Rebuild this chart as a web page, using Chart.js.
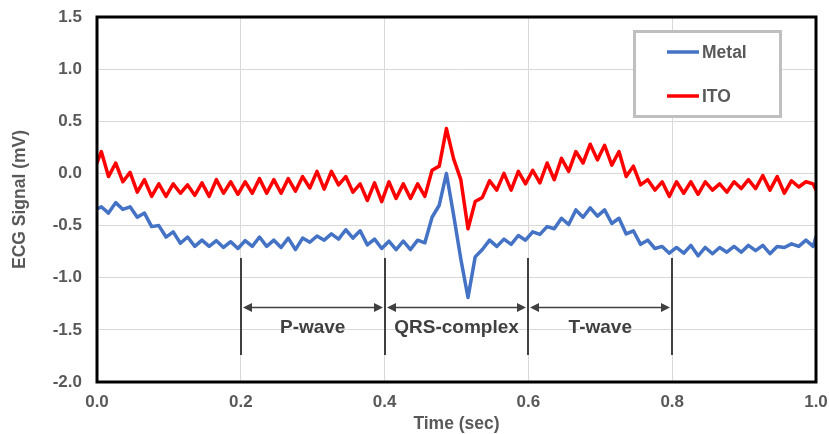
<!DOCTYPE html>
<html>
<head>
<meta charset="utf-8">
<script src="https://cdn.jsdelivr.net/npm/chart.js@4.4.0/dist/chart.umd.min.js"></script>
<style>
  html, body { margin: 0; padding: 0; background: #fff; }
  canvas { display: block; }
</style>
</head>
<body>
<canvas id="ecg_canvas" width="829" height="434"></canvas>
<script>
const seriesNames = ['Metal', 'ITO'];
const seriesColors = ['#4472C4', '#FF0000'];

// sample times in sec: start at 0, then every 10 ms, last one at 1.0
const times = [0];
for (let i = 0; i < 100; i++) times.push(+(0.006 + 0.01 * i).toFixed(3));
times.push(1.0);

const metal = [
  -0.34,
  -0.32, -0.38, -0.28, -0.345, -0.32, -0.42, -0.38, -0.51, -0.50, -0.61,
  -0.56, -0.67, -0.61, -0.70, -0.64, -0.70, -0.645, -0.71, -0.655, -0.72,
  -0.645, -0.70, -0.61, -0.70, -0.64, -0.71, -0.62, -0.73, -0.62, -0.66,
  -0.60, -0.64, -0.58, -0.63, -0.54, -0.62, -0.55, -0.685, -0.63, -0.72,
  -0.65, -0.73, -0.65, -0.73, -0.64, -0.665, -0.42, -0.305, 0.0, -0.40,
  -0.82, -1.19, -0.80, -0.73, -0.64, -0.70, -0.63, -0.68, -0.595, -0.64,
  -0.56, -0.585, -0.51, -0.53, -0.43, -0.49, -0.35, -0.42, -0.33, -0.41,
  -0.35, -0.48, -0.43, -0.58, -0.55, -0.68, -0.64, -0.72, -0.70, -0.765,
  -0.71, -0.765, -0.69, -0.79, -0.71, -0.77, -0.71, -0.755, -0.70, -0.755,
  -0.69, -0.74, -0.69, -0.77, -0.70, -0.71, -0.675, -0.70, -0.64, -0.70,
  -0.61
];

const ito = [
  0.10,
  0.21, -0.03, 0.10, -0.08, 0.01, -0.18, -0.06, -0.22, -0.10, -0.22,
  -0.10, -0.19, -0.11, -0.21, -0.09, -0.22, -0.06, -0.19, -0.08, -0.20,
  -0.08, -0.19, -0.05, -0.19, -0.06, -0.19, -0.05, -0.17, -0.03, -0.14,
  0.02, -0.15, 0.02, -0.11, -0.03, -0.18, -0.10, -0.26, -0.09, -0.27,
  -0.08, -0.24, -0.10, -0.24, -0.10, -0.22, 0.03, 0.07, 0.43, 0.14,
  -0.06, -0.53, -0.27, -0.23, -0.07, -0.16, 0.00, -0.16, 0.02, -0.10,
  0.03, -0.09, 0.10, -0.06, 0.145, 0.02, 0.21, 0.10, 0.28, 0.13,
  0.27, 0.08, 0.21, -0.03, 0.07, -0.11, -0.06, -0.16, -0.08, -0.22,
  -0.08, -0.19, -0.08, -0.20, -0.08, -0.16, -0.10, -0.18, -0.08, -0.145,
  -0.06, -0.145, -0.02, -0.16, -0.03, -0.19, -0.07, -0.13, -0.08, -0.10,
  -0.16
];

const xTicks = [0, 0.2, 0.4, 0.6, 0.8, 1.0];
const yTicks = [-2.0, -1.5, -1.0, -0.5, 0.0, 0.5, 1.0, 1.5];

// wave segments marked under the traces
const waveBounds = [0.2, 0.4, 0.6, 0.8];
const waveNames = ['P-wave', 'QRS-complex', 'T-wave'];

const FONT = '"Liberation Sans", Arial, sans-serif';
const GREY_TEXT = '#595959';
const MARK = '#404040';
// where the marks sit (mV)
const markTop = -0.81, markBottom = -1.74, arrowLevel = -1.28, labelLevel = -1.48;

Chart.defaults.font.family = FONT;

function toPoints(vals) {
  return vals.map((v, i) => ({ x: times[i], y: v }));
}

function arrowHead(ctx, px, py, dir) {
  ctx.beginPath();
  ctx.moveTo(px, py);
  ctx.lineTo(px + dir * 9, py - 4.5);
  ctx.lineTo(px + dir * 9, py + 4.5);
  ctx.closePath();
  ctx.fill();
}

const waveMarks = {
  id: 'waveMarks',
  afterDatasetsDraw(chart) {
    const { ctx, scales: { x, y } } = chart;
    ctx.save();
    ctx.strokeStyle = MARK;
    ctx.fillStyle = MARK;
    ctx.lineWidth = 2;
    waveBounds.forEach(b => {
      const px = Math.round(x.getPixelForValue(b));
      ctx.beginPath();
      ctx.moveTo(px, y.getPixelForValue(markTop));
      ctx.lineTo(px, y.getPixelForValue(markBottom));
      ctx.stroke();
    });
    const ay = Math.round(y.getPixelForValue(arrowLevel)) + 0.5;
    ctx.font = 'bold 19px ' + FONT;
    ctx.textAlign = 'center';
    ctx.textBaseline = 'middle';
    waveNames.forEach((name, i) => {
      const x0 = Math.round(x.getPixelForValue(waveBounds[i])) + 2;
      const x1 = Math.round(x.getPixelForValue(waveBounds[i + 1])) - 2;
      ctx.lineWidth = 1.5;
      ctx.beginPath();
      ctx.moveTo(x0 + 5, ay);
      ctx.lineTo(x1 - 5, ay);
      ctx.stroke();
      arrowHead(ctx, x0, ay, 1);
      arrowHead(ctx, x1, ay, -1);
      const mid = (waveBounds[i] + waveBounds[i + 1]) / 2;
      ctx.fillText(name, x.getPixelForValue(mid), y.getPixelForValue(labelLevel));
    });
    ctx.restore();
  }
};

const plotFrame = {
  id: 'plotFrame',
  afterDraw(chart) {
    const { ctx, chartArea: a } = chart;
    ctx.save();
    ctx.strokeStyle = '#000';
    ctx.lineWidth = 3;
    ctx.strokeRect(a.left, a.top, a.right - a.left, a.bottom - a.top);

    // legend box, top right inside the plot
    ctx.fillStyle = '#fff';
    ctx.fillRect(634.5, 31.5, 146, 85);
    ctx.strokeStyle = '#bfbfbf';
    ctx.strokeRect(634.5, 31.5, 146, 85);
    ctx.font = 'bold 17.5px ' + FONT;
    ctx.textAlign = 'left';
    ctx.textBaseline = 'middle';
    chart.data.datasets.forEach((ds, i) => {
      const ly = 52 + i * 44;
      ctx.strokeStyle = ds.borderColor;
      ctx.lineWidth = 3.5;
      ctx.beginPath();
      ctx.moveTo(667, ly);
      ctx.lineTo(699, ly);
      ctx.stroke();
      ctx.fillStyle = GREY_TEXT;
      ctx.fillText(ds.label, 702, ly + 1);
    });
    ctx.restore();
  }
};

new Chart(document.getElementById('ecg_canvas'), {
  type: 'line',
  data: {
    datasets: [
      { label: seriesNames[0], data: toPoints(metal), borderColor: seriesColors[0] },
      { label: seriesNames[1], data: toPoints(ito), borderColor: seriesColors[1] }
    ]
  },
  options: {
    responsive: false,
    animation: false,
    layout: { padding: { top: 17, right: 13, left: 0, bottom: 0 } },
    elements: {
      point: { radius: 0 },
      line: { borderWidth: 3.5, tension: 0, borderJoinStyle: 'round', borderCapStyle: 'round', fill: false }
    },
    scales: {
      x: {
        type: 'linear',
        min: 0,
        max: 1,
        afterBuildTicks: s => { s.ticks = xTicks.map(v => ({ value: v })); },
        afterFit: s => { s.height = 52; s.paddingLeft = 0; s.paddingRight = 0; },
        ticks: {
          padding: 10,
          color: GREY_TEXT,
          font: { size: 17, weight: 'bold' },
          maxRotation: 0,
          callback: v => v.toFixed(1)
        },
        grid: { color: '#d9d9d9', lineWidth: 1, drawTicks: false },
        border: { display: false },
        title: {
          display: true,
          text: 'Time (sec)',
          color: GREY_TEXT,
          font: { size: 17.5, weight: 'bold', lineHeight: 1.1 },
          padding: 0
        }
      },
      y: {
        min: -2,
        max: 1.5,
        afterBuildTicks: s => { s.ticks = yTicks.map(v => ({ value: v })); },
        afterFit: s => { s.width = 97; s.paddingTop = 0; s.paddingBottom = 0; },
        ticks: {
          padding: 15,
          color: GREY_TEXT,
          font: { size: 17, weight: 'bold' },
          callback: v => v.toFixed(1)
        },
        grid: { color: '#d9d9d9', lineWidth: 1, drawTicks: false },
        border: { display: false },
        title: {
          display: true,
          text: 'ECG Signal (mV)',
          color: GREY_TEXT,
          font: { size: 17.5, weight: 'bold', lineHeight: 1.2 },
          padding: { top: 10, bottom: 0 }
        }
      }
    },
    plugins: {
      legend: { display: false },
      tooltip: { enabled: false }
    }
  },
  plugins: [waveMarks, plotFrame]
});
</script>
</body>
</html>
